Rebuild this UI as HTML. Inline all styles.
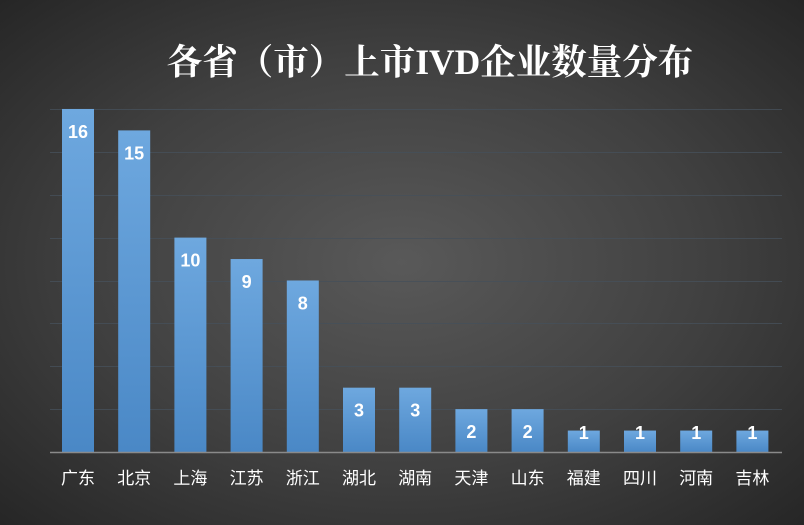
<!DOCTYPE html><html><head><meta charset="utf-8"><style>
body{margin:0;width:804px;height:525px;overflow:hidden;background:radial-gradient(ellipse at 50% 50%,#595959 0%,#404040 55%,#262626 100%);font-family:"Liberation Sans","Noto Sans CJK SC",sans-serif;}
</style></head><body>
<svg width="804" height="525" xmlns="http://www.w3.org/2000/svg" style="position:absolute;left:0;top:0">
<defs><linearGradient id="g" x1="0" y1="0" x2="0" y2="1"><stop offset="0" stop-color="#6ea8df"/><stop offset="1" stop-color="#4a88c6"/></linearGradient></defs>
<text x="430" y="74" fill="#fff" font-size="35.5" font-weight="bold" text-anchor="middle" font-family="Liberation Serif,Noto Serif CJK SC,serif">各省（市）上市IVD企业数量分布</text>
<g stroke="#46505a" stroke-width="1" opacity="0.8">
<line x1="50" x2="782" y1="109.5" y2="109.5"/><line x1="50" x2="782" y1="152.5" y2="152.5"/><line x1="50" x2="782" y1="195.5" y2="195.5"/><line x1="50" x2="782" y1="238.5" y2="238.5"/><line x1="50" x2="782" y1="281.5" y2="281.5"/><line x1="50" x2="782" y1="323.5" y2="323.5"/><line x1="50" x2="782" y1="366.5" y2="366.5"/><line x1="50" x2="782" y1="409.5" y2="409.5"/>
</g>
<g id="bars" font-size="18" font-weight="bold" fill="#fff" text-anchor="middle"></g>
<line x1="50" x2="782" y1="452.5" y2="452.5" stroke="#8a8a8a" stroke-width="1.5"/>
<g id="lab" font-size="17" fill="#fff" text-anchor="middle"></g>
</svg>
<script>
var d=[["广东",16],["北京",15],["上海",10],["江苏",9],["浙江",8],["湖北",3],["湖南",3],["天津",2],["山东",2],["福建",1],["四川",1],["河南",1],["吉林",1]];
var b=document.getElementById('bars'),l=document.getElementById('lab'),s="",t="";
d.forEach(function(e,i){var cx=78+i*56.2,h=e[1]*21.44,y=452-h;
var ty=Math.min(y+29,439);
s+='<rect x="'+(cx-16)+'" y="'+y+'" width="32" height="'+h+'" fill="url(#g)"/><text x="'+cx+'" y="'+ty+'">'+e[1]+'</text>';
t+='<text x="'+cx+'" y="484">'+e[0]+'</text>';});
b.innerHTML=s;l.innerHTML=t;
</script>
</body></html>
